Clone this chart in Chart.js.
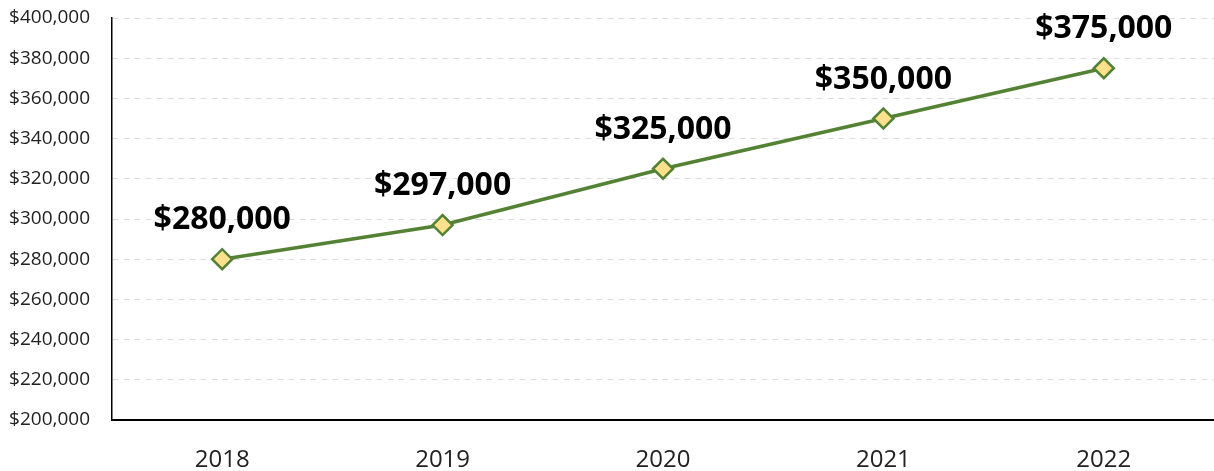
<!DOCTYPE html>
<html>
<head>
<meta charset="utf-8">
<script src="https://cdn.jsdelivr.net/npm/chart.js@4"></script>
<style>
  html, body { margin: 0; padding: 0; background: #fff; overflow: hidden; }
  canvas { display: block; }
</style>
</head>
<body>
<canvas id="c" width="1214" height="471"></canvas>
<script>
const years = ['2018', '2019', '2020', '2021', '2022']
const prices = [280000, 297000, 325000, 350000, 375000]

const money = v => '$' + v.toLocaleString('en-US')

// draws the bold value above each point
const valueLabels = {
  id: 'valueLabels',
  afterDatasetsDraw(chart) {
    const ctx = chart.ctx
    const meta = chart.getDatasetMeta(0)
    ctx.save()
    ctx.font = 'bold 32px "Open Sans"'
    ctx.fillStyle = '#000'
    ctx.textAlign = 'center'
    ctx.textBaseline = 'middle'
    meta.data.forEach((pt, i) => {
      ctx.fillText(money(prices[i]), pt.x, pt.y - 39)
    })
    ctx.restore()
  }
}

new Chart(document.getElementById('c'), {
  type: 'line',
  data: {
    labels: years,
    datasets: [{
      data: prices,
      borderColor: '#548235',
      borderWidth: 3.5,
      pointStyle: 'rectRot',
      pointRadius: 10,
      pointBackgroundColor: '#ffe08c',
      pointBorderColor: '#548235',
      pointBorderWidth: 2.5,
      tension: 0
    }]
  },
  options: {
    responsive: false,
    animation: false,
    layout: { autoPadding: false, padding: { top: 18, right: -3, left: 0, bottom: 0 } },
    plugins: { legend: { display: false }, tooltip: { enabled: false } },
    scales: {
      x: {
        offset: true,
        grid: { display: false },
        border: { color: '#000', width: 2 },
        ticks: { color: '#222', font: { family: 'Open Sans', size: 24 }, padding: 18 },
        afterFit: s => { s.height = 51; s.paddingLeft = 0; s.paddingRight = 0 }
      },
      y: {
        min: 200000,
        max: 400000,
        grid: { color: '#dcdcdc', drawTicks: false },
        border: { color: '#000', width: 1.5, dash: [6, 5] },
        ticks: {
          stepSize: 20000,
          color: '#222',
          padding: 22,
          font: { family: 'Open Sans', size: 19 },
          callback: v => money(v)
        },
        afterFit: s => { s.width = 112; s.paddingTop = 0; s.paddingBottom = 0 }
      }
    }
  },
  plugins: [valueLabels]
})
</script>
</body>
</html>
